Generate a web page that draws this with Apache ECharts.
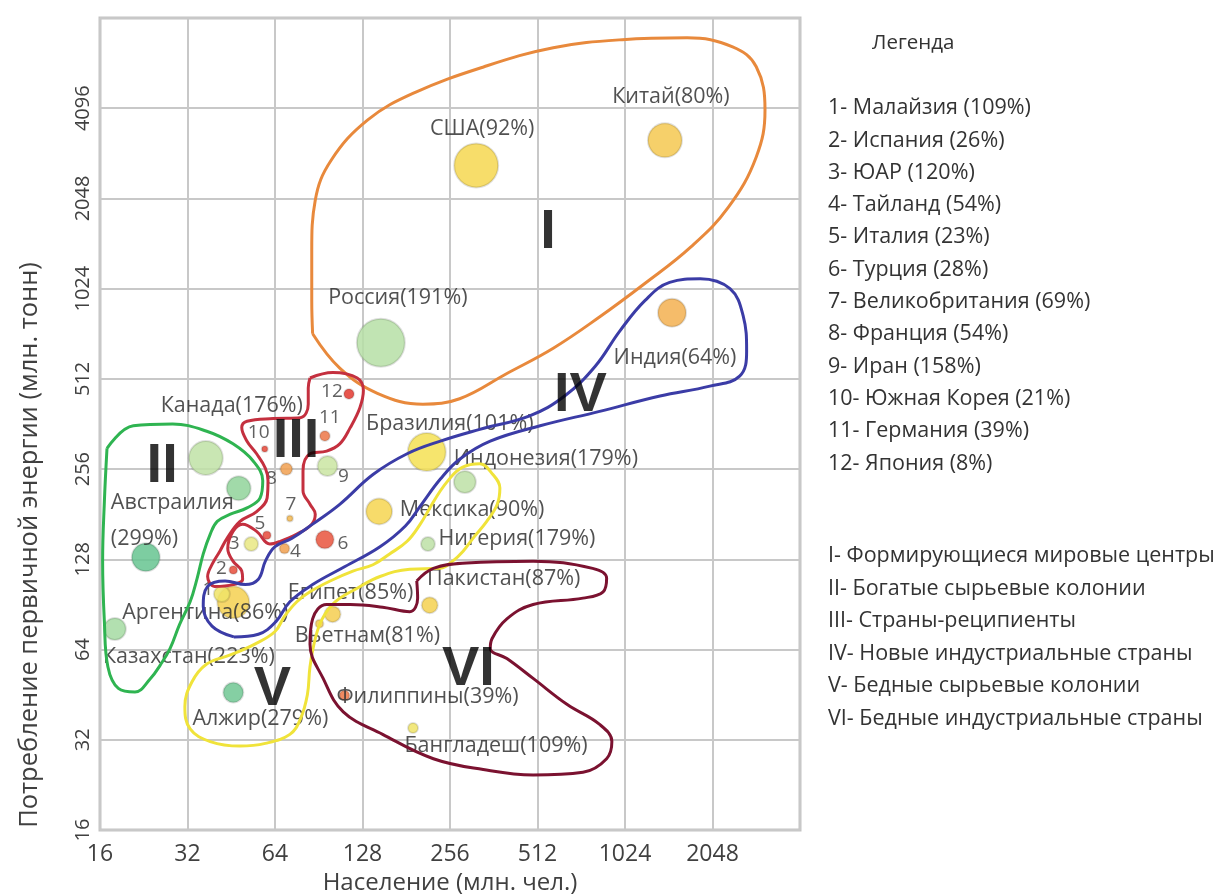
<!DOCTYPE html>
<html>
<head>
<meta charset="utf-8">
<title>Население и потребление энергии</title>
<script src="https://cdn.jsdelivr.net/npm/echarts@6/dist/echarts.min.js"></script>
<style>
  html, body { margin: 0; padding: 0; background: #fff; }
  #main { width: 1226px; height: 895px; }
</style>
</head>
<body>
<div id="main"></div>
<script>
// страны: население (млн. чел.), потребление (млн. тонн), обеспеченность (%), размер пузыря
var countries = ['Китай', 'США', 'Россия', 'Индия', 'Бразилия', 'Индонезия', 'Мексика', 'Нигерия',
  'Канада', 'Австраилия', '', 'Аргентина', 'Казахстан', 'Египет', 'Вьетнам', 'Пакистан',
  'Филиппины', 'Бангладеш', 'Алжир', 'Малайзия', 'Испания', 'ЮАР', 'Тайланд', 'Италия',
  'Турция', 'Великобритания', 'Франция', 'Иран', 'Южная Корея', 'Германия', 'Япония'];
var population = [1405, 315, 148, 1486, 213, 288, 146, 215, 37, 23, 48, 46, 18, 101, 91, 218,
  111, 191, 46, 42, 46, 53, 69, 60, 95, 72, 70, 97, 59, 95, 115];
var energy = [3200, 2640, 676, 851, 292, 232, 185, 144, 279, 130, 221, 92, 75, 84, 78, 90,
  45, 35, 46, 98, 118, 144, 139, 154, 149, 175, 256, 262, 299, 330, 456];
var selfPct = [80, 92, 191, 64, 101, 179, 90, 179, 176, 299, 250, 86, 223, 85, 81, 87,
  39, 109, 279, 109, 26, 120, 54, 23, 28, 69, 54, 158, 21, 39, 8];
var bubble = [34, 44, 48, 28, 38, 22, 26, 14, 34, 28, 24, 32, 22, 16, 8, 16,
  10, 10, 20, 16, 8, 14, 10, 8, 18, 6, 12, 20, 6, 10, 10];

// страны под номерами (легенда)
var numbered = ['Малайзия', 'Испания', 'ЮАР', 'Тайланд', 'Италия', 'Турция', 'Великобритания',
  'Франция', 'Иран', 'Южная Корея', 'Германия', 'Япония'];

// группы стран
var groups = ['I', 'II', 'III', 'IV', 'V', 'VI'];
var groupNames = ['Формирующиеся мировые центры', 'Богатые сырьевые колонии', 'Страны-реципиенты',
  'Новые индустриальные страны', 'Бедные сырьевые колонии', 'Бедные индустриальные страны'];

// контуры групп, [log2 населения, log2 потребления]
var outlineI = [[6.43,9.50],[6.74,9.12],[7.17,8.84],[7.69,8.72],[8.11,8.78],[8.65,9.06],[9.18,9.34],
  [9.70,9.68],[10.23,10.06],[10.75,10.46],[11.18,10.90],[11.50,11.46],[11.60,11.98],[11.50,12.46],
  [11.23,12.68],[10.71,12.78],[9.97,12.76],[9.18,12.67],[8.39,12.46],[7.59,12.17],[7.06,11.87],
  [6.64,11.42],[6.46,10.98],[6.42,10.42],[6.42,9.87],[6.43,9.50]];
var outlineII = [[4.08,8.23],[4.38,8.48],[4.83,8.50],[5.22,8.42],[5.52,8.28],[5.75,8.09],[5.86,7.87],
  [5.83,7.68],[5.68,7.57],[5.49,7.50],[5.34,7.42],[5.26,7.28],[5.18,7.06],[5.11,6.79],[5.03,6.53],
  [4.91,6.28],[4.80,6.01],[4.69,5.83],[4.57,5.67],[4.40,5.53],[4.21,5.57],[4.09,5.81],[4.05,6.31],
  [4.03,6.98],[4.05,7.64],[4.08,8.23]];
var outlineIII = [[6.40,9.01],[6.66,9.07],[6.94,9.01],[7.01,8.87],[6.97,8.68],[6.86,8.46],[6.74,8.28],
  [6.59,8.20],[6.40,8.17],[6.32,7.98],[6.32,7.76],[6.40,7.61],[6.46,7.50],[6.42,7.39],[6.25,7.28],
  [6.06,7.20],[5.94,7.17],[5.79,7.31],[5.63,7.39],[5.52,7.31],[5.46,7.12],[5.52,6.98],[5.62,6.87],
  [5.63,6.78],[5.52,6.72],[5.31,6.70],[5.23,6.81],[5.29,6.96],[5.37,7.09],[5.45,7.23],[5.60,7.42],
  [5.79,7.53],[5.91,7.68],[5.92,7.87],[5.89,8.01],[5.79,8.17],[5.68,8.31],[5.62,8.46],[5.68,8.53],
  [5.98,8.56],[6.29,8.57],[6.38,8.72],[6.38,8.90],[6.40,9.01]];
var outlineIV = [[5.53,6.14],[5.28,6.26],[5.18,6.48],[5.23,6.70],[5.43,6.76],[5.66,6.72],[5.81,6.78],
  [5.89,6.98],[6.00,7.14],[6.19,7.23],[6.43,7.39],[6.74,7.61],[7.12,7.94],[7.51,8.17],[7.89,8.31],
  [8.34,8.44],[8.91,8.59],[9.31,8.81],[9.66,9.14],[9.94,9.53],[10.23,9.87],[10.51,10.07],[10.86,10.11],
  [11.20,10.00],[11.35,9.70],[11.39,9.31],[11.31,9.03],[10.97,8.92],[10.40,8.81],[9.71,8.64],
  [9.03,8.48],[8.46,8.31],[8.11,8.11],[7.89,7.89],[7.66,7.59],[7.49,7.37],[7.20,7.14],[6.80,6.92],
  [6.43,6.72],[6.17,6.53],[6.01,6.31],[5.81,6.17],[5.53,6.14]];
var outlineV = [[8.00,7.90],[7.89,7.76],[7.77,7.57],[7.66,7.39],[7.51,7.20],[7.31,7.06],[7.12,6.94],
  [6.89,6.87],[6.63,6.76],[6.40,6.64],[6.25,6.53],[6.11,6.37],[6.00,6.20],[5.77,6.06],[5.49,5.94],
  [5.22,5.84],[5.05,5.64],[4.97,5.37],[5.03,5.12],[5.26,4.98],[5.60,4.93],[5.89,4.96],[6.17,5.06],
  [6.29,5.23],[6.37,5.50],[6.40,5.81],[6.46,6.12],[6.54,6.34],[6.69,6.53],[6.94,6.68],[7.20,6.81],
  [7.54,6.89],[7.89,6.90],[8.03,6.98],[8.15,7.09],[8.26,7.23],[8.42,7.42],[8.54,7.61],[8.57,7.79],
  [8.49,7.94],[8.34,8.06],[8.14,8.02],[8.00,7.90]];
var outlineVI = [[7.62,6.76],[7.81,6.90],[8.19,6.96],[8.95,6.98],[9.63,6.90],[9.79,6.79],[9.75,6.64],
  [9.52,6.57],[8.95,6.50],[8.65,6.34],[8.48,6.12],[8.46,6.01],[8.65,5.90],[8.95,5.68],[9.34,5.39],
  [9.71,5.17],[9.85,4.98],[9.79,4.79],[9.52,4.64],[8.95,4.61],[8.38,4.67],[7.81,4.79],[7.23,5.06],
  [6.78,5.31],[6.55,5.68],[6.40,6.06],[6.43,6.34],[6.59,6.50],[6.86,6.50],[7.23,6.47],[7.54,6.42],
  [7.63,6.57],[7.62,6.76]];
var groupMark = [[9.12,10.62],[4.71,8.03],[6.24,8.31],[9.49,8.81],[5.97,5.56],[8.21,5.78]];

var outlineColors = ['#e8893c', '#2fb451', '#c4303f', '#3b3ca6', '#f0e33a', '#7b1230'];
var outlines = [outlineI, outlineII, outlineIII, outlineIV, outlineV, outlineVI];

// размещение подписей: сдвиг центра подписи от центра пузыря (px)
var labelShift = {
  'Китай': [6, -43], 'США': [6, -37], 'Россия': [17, -45], 'Индия': [3, 45],
  'Бразилия': [23, -28], 'Индонезия': [81, -23], 'Мексика': [93, -2], 'Нигерия': [89, -5],
  'Канада': [26, -52], 'Австраилия': [-35, -36], 'Аргентина': [-28, 11], 'Казахстан': [74, 28],
  'Египет': [18, -21], 'Вьетнам': [48, 12], 'Пакистан': [74, -26], 'Филиппины': [83, 1],
  'Бангладеш': [83, 18], 'Алжир': [27, 26],
  'Малайзия': [-14, -5], 'Испания': [-12, -1], 'ЮАР': [-17, 0], 'Тайланд': [11, 3],
  'Италия': [-7, -12], 'Турция': [18, 4], 'Великобритания': [1, -14], 'Франция': [-15, 9],
  'Иран': [16, 10], 'Южная Корея': [-6, -16], 'Германия': [5, -18], 'Япония': [-17, -2]
};

var FONT = '"Open Sans", "Noto Sans", sans-serif';

function pow2(p) { return [Math.pow(2, p[0]), Math.pow(2, p[1])]; }

var points = countries.map(function (name, i) {
  var num = numbered.indexOf(name);
  var text = '';
  var lab = { show: name !== '', position: 'inside', fontFamily: FONT, fontSize: 21.5, color: '#333' };
  if (num >= 0) {
    text = String(num + 1);
    lab.fontSize = 19;
    lab.color = '#444';
  } else if (name === 'Австраилия') {
    text = name + '\n(' + selfPct[i] + '%)';
    lab.align = 'left';
    lab.lineHeight = 36;
  } else if (name) {
    text = name + '(' + selfPct[i] + '%)';
  }
  lab.formatter = text;
  return { name: name, value: [population[i], energy[i], bubble[i], selfPct[i]], label: lab };
});

var series = [{
  name: 'страны',
  type: 'scatter',
  data: points,
  symbolSize: function (v) { return v[2]; },
  itemStyle: { opacity: 0.85, borderColor: 'rgba(0,0,0,0.14)', borderWidth: 2 },
  labelLayout: function (p) {
    var s = labelShift[countries[p.dataIndex]] || [0, 0];
    return { dx: s[0], dy: s[1], hideOverlap: false };
  },
  z: 2
}];

outlines.forEach(function (o, k) {
  series.push({
    name: groups[k],
    type: 'line',
    data: o.map(pow2),
    smooth: 0.4,
    symbol: 'none',
    silent: true,
    lineStyle: { color: outlineColors[k], width: 3 },
    z: 3
  });
});

series.push({
  name: 'группы',
  type: 'scatter',
  data: groupMark.map(function (p, k) { return { name: groups[k], value: pow2(p) }; }),
  symbolSize: 0,
  silent: true,
  label: {
    show: true, position: 'inside', formatter: '{b}',
    fontFamily: '"Liberation Sans", Arial, sans-serif', fontWeight: 'bold', fontSize: 56, color: '#000'
  },
  z: 4
});

// легенда справа
var legendLines = numbered.map(function (n, k) {
  return (k + 1) + '- ' + n + ' (' + selfPct[countries.indexOf(n)] + '%)';
});
var groupLines = groups.map(function (g, k) { return g + '- ' + groupNames[k]; });

var myChart = echarts.init(document.getElementById('main'));
myChart.setOption({
  animation: false,
  backgroundColor: '#fff',
  grid: {
    left: 100, right: 426, top: 18, bottom: 65, outerBoundsMode: 'none',
    show: true, borderColor: '#c3c3c3', borderWidth: 3
  },
  visualMap: {
    show: false,
    type: 'continuous',
    seriesIndex: 0,
    dimension: 3,
    min: 0,
    max: 300,
    inRange: {
      color: ['#e0302a', '#e84a3a', '#f09a50', '#f5c250', '#f6e150', '#e6e890', '#cfe6a0',
        '#c0e2a6', '#b0dea6', '#a4daa2', '#90d49a', '#72c893', '#66c490']
    }
  },
  xAxis: {
    type: 'log',
    logBase: 2,
    min: 16,
    max: 4096,
    splitNumber: 9,
    name: 'Население (млн. чел.)',
    nameLocation: 'middle',
    nameGap: 40,
    nameTextStyle: { fontFamily: FONT, fontSize: 24, color: '#404040' },
    axisLine: { show: false },
    axisTick: { show: false },
    axisLabel: {
      fontFamily: FONT, fontSize: 23, color: '#404040', margin: 13, showMaxLabel: false,
      formatter: function (v) { return Math.round(v); }
    },
    splitLine: { lineStyle: { color: '#c8c8c8', width: 2 } }
  },
  yAxis: {
    type: 'log',
    logBase: 2,
    min: 16,
    max: 8192,
    splitNumber: 10,
    axisLine: { show: false },
    axisTick: { show: false },
    axisLabel: {
      fontFamily: FONT, fontSize: 20, color: '#404040', margin: 7, rotate: 90, showMaxLabel: false,
      formatter: function (v) { return Math.round(v); }
    },
    splitLine: { lineStyle: { color: '#c8c8c8', width: 2 } }
  },
  graphic: [
    {
      type: 'text', x: 30, y: 545, rotation: Math.PI / 2,
      style: {
        text: 'Потребление первичной энергии (млн. тонн)', fontFamily: FONT, fontSize: 25.5,
        fill: '#404040', textAlign: 'center', textVerticalAlign: 'middle'
      }
    },
    {
      type: 'text', left: 872, top: 33,
      style: { text: 'Легенда', fontFamily: FONT, fontSize: 20.5, fill: '#333' }
    },
    {
      type: 'text', left: 828, top: 92,
      style: { text: legendLines.join('\n'), fontFamily: FONT, fontSize: 21.5, lineHeight: 32.3, fill: '#333' }
    },
    {
      type: 'text', left: 828, top: 540,
      style: { text: groupLines.join('\n'), fontFamily: FONT, fontSize: 21.5, lineHeight: 32.5, fill: '#333' }
    }
  ],
  series: series
});
</script>
</body>
</html>
